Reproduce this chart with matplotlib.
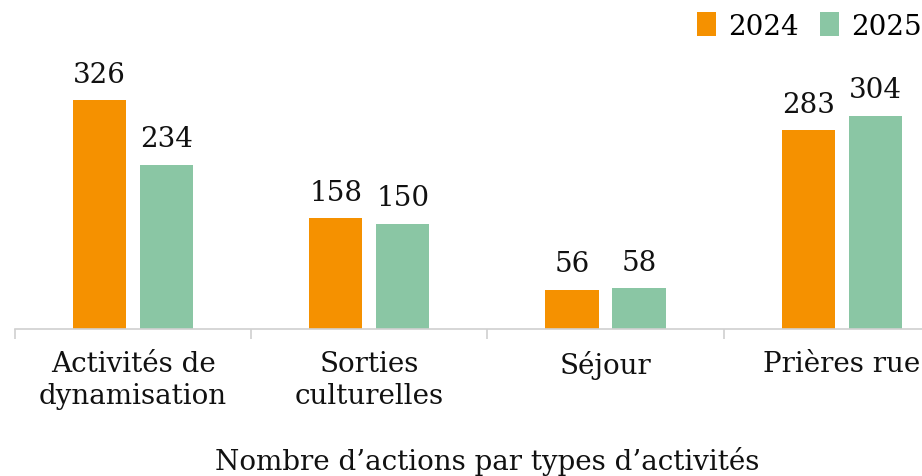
import matplotlib.pyplot as plt
import numpy as np

categories = ["Activités de\ndynamisation", "Sorties\nculturelles", "Séjour", "Prières rue"]
v2024 = [326, 158, 56, 283]
v2025 = [234, 150, 58, 304]
years = ["2024", "2025"]

c24 = "#F59100"
c25 = "#8AC6A4"

plt.rcParams["font.family"] = ["DejaVu Serif"]
fs = 20

fig = plt.figure(figsize=(9.22, 4.77), dpi=100)
ax = fig.add_axes([0.0163, 0.308, 0.9837, 0.692])

x = np.arange(len(categories))
w = 0.225
off = 0.142
b1 = ax.bar(x - off, v2024, w, color=c24, label=years[0])
b2 = ax.bar(x + off, v2025, w, color=c25, label=years[1])

for bars, vals in ((b1, v2024), (b2, v2025)):
    for r, v in zip(bars, vals):
        ax.annotate(str(v), (r.get_x() + r.get_width() / 2, v),
                    xytext=(0, 9), textcoords="offset points",
                    ha="center", va="bottom", fontsize=fs, color="#111111")

for s in ["top", "right", "left"]:
    ax.spines[s].set_visible(False)
ax.spines["bottom"].set_color("#d0d0d0")
ax.spines["bottom"].set_linewidth(1.2)
ax.set_yticks([])

# category labels at centers, tick marks at boundaries
ax.set_xticks(x)
ax.set_xticklabels(categories, fontsize=fs, color="#111111", linespacing=1.25)
ax.tick_params(axis="x", which="major", length=0, pad=15)
ax.set_xticks(np.arange(-0.5, 4.0, 1.0), minor=True)
ax.tick_params(axis="x", which="minor", length=7, width=1.2, color="#d0d0d0")
ax.set_xlim(-0.5, 3.34)
ax.set_ylim(0, 470)

ax.set_xlabel("Nombre d’actions par types d’activités", fontsize=fs, color="#111111")
ax.xaxis.set_label_coords((1.5 + 0.5) / (3.34 + 0.5), -0.355)

ax.legend(loc="upper right", bbox_to_anchor=(1.012, 0.995), bbox_transform=fig.transFigure,
          ncol=2, frameon=False, fontsize=fs, handlelength=0.68, handleheight=0.9,
          handletextpad=0.45, columnspacing=0.75, borderaxespad=0)

fig.savefig("out.png", dpi=100)
